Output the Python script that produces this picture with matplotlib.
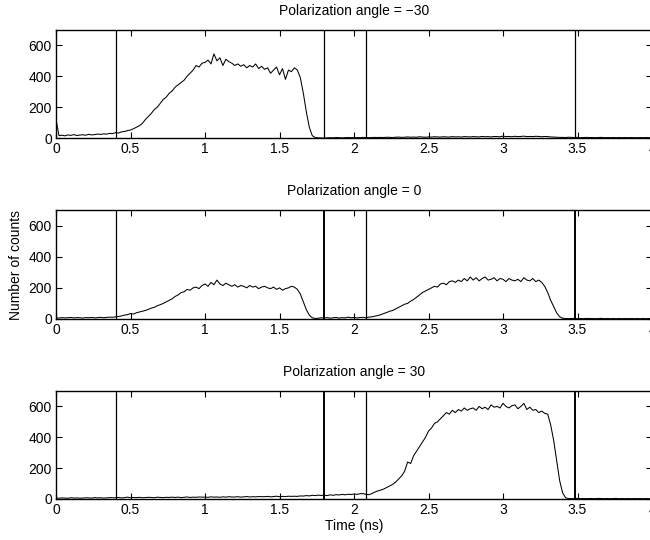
import numpy as np
import matplotlib
matplotlib.use("Agg")
import matplotlib.pyplot as plt

plt.rcParams['font.family'] = ['Liberation Sans', 'DejaVu Sans']
plt.rcParams['font.size'] = 10

# time bins, 0.02 ns steps from 0 to 4 ns
t_start, t_stop, t_step = 0.0, 4.0, 0.02

titles = ["Polarization angle = \u221230", "Polarization angle = 0", "Polarization angle = 30"]

# counts (angle -30)
counts_m30 = [120, 15, 18, 14, 20, 17, 22, 16, 19, 21, 18, 24, 20, 22, 26, 23, 27, 25, 30, 28,
              35, 32, 40, 42, 48, 52, 60, 70, 80, 95,
              120, 140, 160, 185, 200, 225, 250, 265, 290, 305,
              330, 345, 360, 375, 400, 420, 440, 470, 460, 485,
              490, 505, 480, 545, 500, 520, 470, 510, 495, 485,
              470, 480, 465, 475, 455, 470, 460, 480, 450, 465,
              445, 455, 420, 440, 460, 410, 450, 380, 440, 430,
              455, 440, 390, 290, 170, 70, 15, 3, 1, 0,
              0, 1, 2, 1, 3, 2, 1, 2, 3, 2,
              2, 3, 2, 4, 3, 2, 3, 4, 3, 4,
              3, 5, 4, 3, 5, 6, 4, 5, 7, 5,
              6, 5, 8, 6, 5, 7, 6, 8, 7, 6,
              8, 7, 6, 9, 7, 8, 6, 9, 8, 7,
              9, 8, 7, 10, 8, 9, 7, 10, 9, 8,
              12, 9, 10, 8, 11, 9, 10, 12, 9, 10,
              9, 11, 10, 8, 10, 9, 7, 6, 5, 4,
              4, 3, 5, 4, 3, 4, 2, 3, 4, 3,
              3, 2, 3, 4, 2, 3, 2, 3, 2, 3,
              2, 3, 2, 3, 2, 2, 3, 2, 3, 2,
              2]

# angle 0
counts_0 = [8, 6, 9, 7, 8, 10, 7, 9, 8, 6, 9, 8, 10, 7, 9, 11, 8, 10, 12, 11,
            14, 16, 20, 25, 28, 35, 32, 40, 45, 50,
            55, 62, 70, 75, 85, 92, 100, 110, 120, 130,
            145, 155, 170, 175, 190, 185, 200, 205, 195, 215,
            225, 210, 235, 220, 250, 225, 215, 230, 220, 210,
            220, 205, 215, 210, 200, 215, 205, 210, 195, 205,
            210, 200, 195, 205, 190, 200, 185, 195, 200, 210,
            205, 190, 160, 110, 60, 25, 8, 3, 5, 8,
            6, 9, 5, 8, 10, 6, 9, 7, 12, 8,
            10, 7, 9, 11, 8, 12, 14, 18, 22, 28,
            35, 42, 50, 55, 65, 75, 85, 95, 100, 115,
            125, 140, 155, 170, 180, 190, 200, 210, 205, 225,
            230, 220, 240, 245, 235, 250, 240, 260, 245, 270,
            250, 265, 245, 260, 270, 250, 255, 265, 245, 260,
            255, 240, 260, 250, 245, 255, 240, 265, 250, 245,
            260, 240, 250, 235, 210, 170, 120, 80, 40, 15,
            5, 3, 2, 4, 3, 2, 3, 2, 4, 3,
            3, 2, 3, 4, 2, 3, 2, 3, 2, 3,
            2, 3, 2, 3, 2, 3, 2, 3, 2, 3,
            2]

# angle 30
counts_p30 = [6, 5, 7, 6, 5, 8, 6, 7, 5, 6, 8, 7, 6, 9, 7, 8, 6, 7, 9, 8,
              8, 10, 7, 9, 12, 8, 10, 9, 11, 8,
              9, 11, 10, 8, 12, 10, 9, 11, 10, 12,
              10, 12, 9, 11, 13, 10, 12, 11, 13, 12,
              12, 11, 14, 12, 13, 11, 14, 12, 15, 13,
              13, 15, 12, 14, 16, 13, 15, 14, 16, 15,
              15, 17, 14, 16, 18, 15, 17, 16, 18, 17,
              18, 17, 20, 19, 22, 20, 24, 22, 25, 23,
              25, 22, 27, 24, 28, 26, 30, 27, 31, 29,
              32, 30, 34, 35, 30, 28, 35, 45, 52, 58,
              65, 75, 85, 95, 110, 130, 150, 180, 240, 230,
              280, 310, 340, 370, 400, 440, 460, 490, 500, 520,
              540, 560, 550, 575, 560, 580, 570, 590, 575, 585,
              590, 575, 600, 585, 595, 580, 610, 595, 600, 590,
              620, 600, 590, 605, 610, 585, 600, 620, 580, 595,
              575, 580, 560, 570, 555, 550, 480, 380, 250, 120,
              40, 8, 3, 2, 3, 4, 2, 3, 2, 3,
              3, 2, 4, 3, 2, 3, 2, 3, 4, 2,
              3, 2, 3, 2, 3, 2, 3, 2, 3, 2,
              3]

# timing marker positions (ns)
markers = [0.40, 1.80, 2.08, 3.48]

series = [counts_m30, counts_0, counts_p30]
t = np.arange(len(counts_0)) * t_step + t_start

fig = plt.figure(figsize=(6.5, 5.4), dpi=100)
tops = [30, 210, 391]
bottoms = [138, 319, 499]
axes = []
for i in range(3):
    y0 = 1 - bottoms[i] / 540
    h = (bottoms[i] - tops[i]) / 540
    ax = fig.add_axes([56 / 650, y0, (652 - 56) / 650, h])
    ax.plot(t, series[i], color='black', lw=0.75)
    for m in markers:
        w = 0.9
        if i > 0 and m in (1.80, 3.48):
            w = 1.4
        ax.axvline(m, color='black', lw=w)
    ax.set_xlim(0, 4)
    ax.set_ylim(0, 700)
    ax.set_xticks([0, 0.5, 1, 1.5, 2, 2.5, 3, 3.5, 4])
    ax.set_xticklabels(['0', '0.5', '1', '1.5', '2', '2.5', '3', '3.5', '4'])
    ax.set_yticks([0, 200, 400, 600])
    ax.tick_params(direction='in', top=True, right=True, length=4, width=0.8,
                   labelsize=10, pad=3, colors='black')
    for s in ax.spines.values():
        s.set_linewidth(1.0)
        s.set_color('black')
    ax.set_title(titles[i], fontsize=10, pad=11)
    axes.append(ax)

axes[1].set_ylabel("Number of counts", fontsize=10, labelpad=4)
axes[2].set_xlabel("Time (ns)", fontsize=10, labelpad=1)

fig.savefig("out.png", dpi=100)
